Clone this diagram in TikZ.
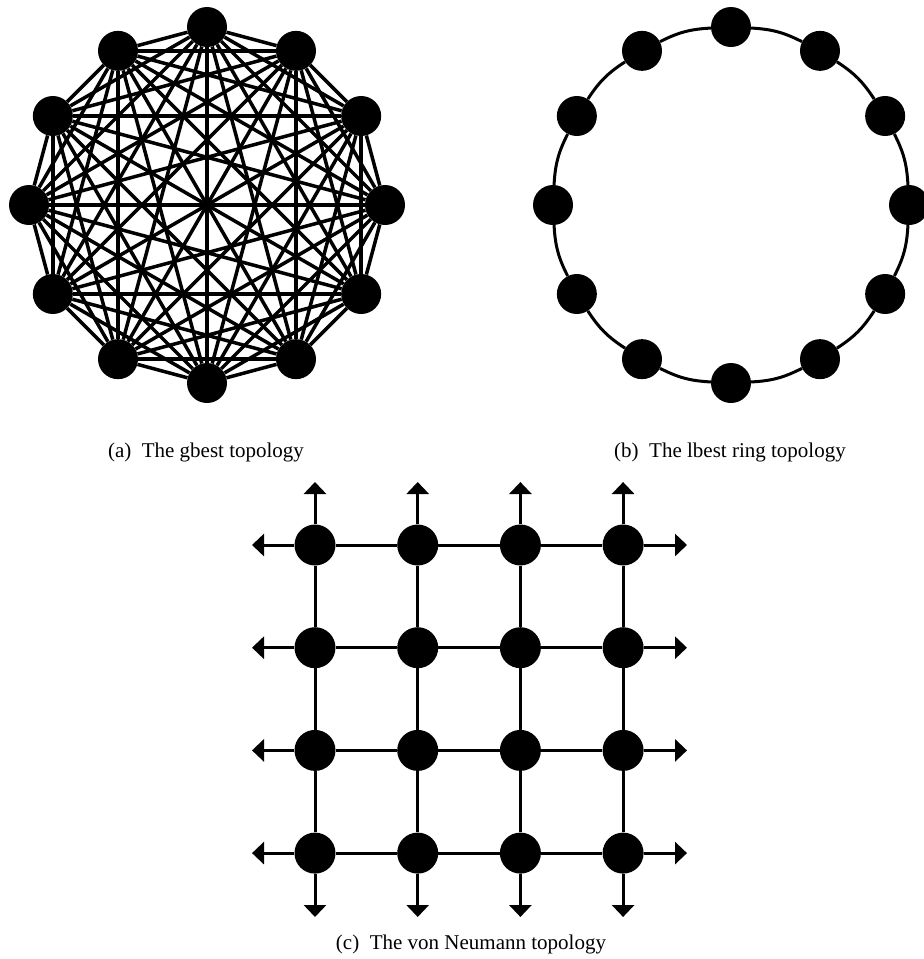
\documentclass[tikz,border=0pt]{standalone}
\usepackage{fontspec}
\setmainfont{Liberation Serif}
\usetikzlibrary{arrows.meta}
\tikzset{
  dot/.style={circle,fill=black,inner sep=0pt,minimum size=40pt},
  link/.style={line width=3pt},
  caplabel/.style={anchor=base,font=\fontsize{21}{25}\selectfont},
}

\begin{document}
\begin{tikzpicture}[x=1pt,y=-1pt]
  \useasboundingbox (0,0) rectangle (924,959);
  % (a) gbest: every particle linked to every other
  \begin{scope}[shift={(207,205)}]
    \foreach \i in {0,...,11}
      \node[dot] (g\i) at ({30*\i}:178) {};
  \end{scope}
  \foreach \i in {0,...,10}{
    \pgfmathtruncatemacro\nxt{\i+1}
    \foreach \j in {\nxt,...,11}
      \draw[link,line width=3.5pt] (g\i) -- (g\j);
  }
  % (b) lbest ring
  \begin{scope}[shift={(731,205)}]
    \foreach \i in {0,...,11}
      \node[dot] (r\i) at ({30*\i}:178) {};
  \end{scope}
  \foreach \i [evaluate=\i as \nxt using {int(mod(\i+1,12))}] in {0,...,11}
    \draw[link] (r\i) to[bend left=12] (r\nxt);
  % (c) von Neumann grid
  \foreach \i in {0,...,3}
    \foreach \j in {0,...,3}
      \node[dot,minimum size=41pt] (v\i\j) at (315+102.7*\i,545+102.7*\j) {};
  \foreach \i in {0,...,3}{
    \coordinate (top\i) at (315+102.7*\i,482);
    \coordinate (bot\i) at (315+102.7*\i,917);
    \coordinate (lft\i) at (252,545+102.7*\i);
    \coordinate (rgt\i) at (687,545+102.7*\i);
    \draw[link,-{Triangle[width=22pt,length=12pt]}] (v\i0) -- (top\i);
    \draw[link,-{Triangle[width=22pt,length=12pt]}] (v\i3) -- (bot\i);
    \draw[link,-{Triangle[width=22pt,length=12pt]}] (v0\i) -- (lft\i);
    \draw[link,-{Triangle[width=22pt,length=12pt]}] (v3\i) -- (rgt\i);
  }
  \foreach \i in {0,...,3}
    \foreach \j/\k in {0/1,1/2,2/3}{
      \draw[link] (v\i\j) -- (v\i\k);
      \draw[link] (v\j\i) -- (v\k\i);
    }
  % captions
  \node[caplabel] (capa) at (206,457) {(a)\ \ The gbest topology};
  \node[caplabel] (capb) at (730,457) {(b)\ \ The lbest ring topology};
  \node[caplabel] (capc) at (471,949) {(c)\ \ The von Neumann topology};
\end{tikzpicture}
\end{document}
